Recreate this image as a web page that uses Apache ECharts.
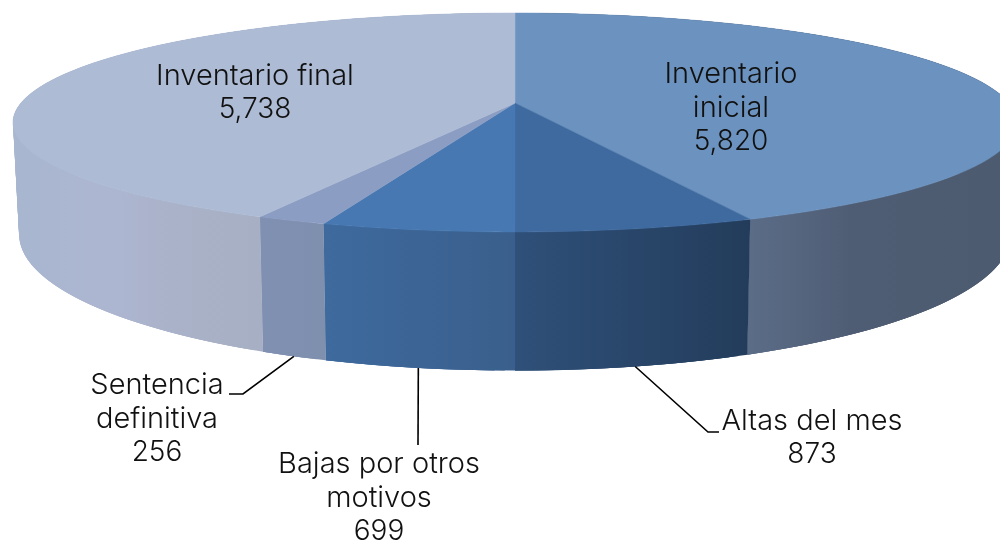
<!DOCTYPE html>
<html>
<head>
<meta charset="utf-8">
<title>Inventario</title>
<style>
html,body{margin:0;padding:0;background:#fff;}
#main{width:1000px;height:546px;}
</style>
<script src="https://cdn.jsdelivr.net/npm/echarts@6/dist/echarts.min.js"></script>
</head>
<body>
<div id="main"></div>
<script>
// datos
var categories = ['Inventario inicial','Altas del mes','Bajas por otros motivos','Sentencia definitiva','Inventario final'];
var values = [5820,873,699,256,5738];
var valueLabels = ['5,820','873','699','256','5,738'];
var labelLines = [['Inventario','inicial'],['Altas del mes'],['Bajas por otros','motivos'],['Sentencia','definitiva'],['Inventario final']];

// colores
var topColors = ['#6c93bf','#3f6a9f','#4778b2','#8b9dc3','#adbbd5'];
var wallColors = [
    [[0,'#5b6c87'],[0.2,'#55657e'],[0.4,'#4f5d74'],[1,'#4d5b70']],
    [[0,'#2f5079'],[1,'#233c5b']],
    [[0,'#3e6a9e'],[1,'#3a5f8c']],
    [[0,'#8090b2'],[1,'#7f8fae']],
    [[0,'#a8b6cf'],[0.4,'#adb6d1'],[0.65,'#aab2c9'],[1,'#a6afc3']]
];
var wallRange = [[750,1000],[515,750],[323,515],[259,323],[12,259]];

// posicion de las etiquetas: centro x, y de cada linea
var labelPos = [[731,74],[812,421],[379,464],[157,385],[255,76]];
var lineGap = 34;
var leaders = [
    null,
    [[708,432],[719,432]],
    [[418,445]],
    [[243,394],[229,394]],
    null
];

// proyeccion del disco
var cx = 515, persp = 0.178;
var topDisc = {a:494,b:106,c:103};
var botDisc = {a:488,b:132,c:210};

var total = 0;
for(var i=0;i<values.length;i++){ total += values[i]; }

function startAngle(idx){
    var s = 0;
    for(var i=0;i<idx;i++){ s += values[i]; }
    return s/total*Math.PI*2;
}
function project(disc,ang){
    var u = Math.sin(ang), v = Math.cos(ang);
    var w = 1+persp*v;
    return [cx+disc.a*u/w, disc.c-disc.b*v/w];
}
function arc(disc,a0,a1){
    var pts = [];
    var n = Math.max(2,Math.ceil(Math.abs(a1-a0)/(Math.PI/180)));
    for(var i=0;i<=n;i++){
        pts.push(project(disc,a0+(a1-a0)*i/n));
    }
    return pts;
}

// la pared va en tramos solapados, asi cubre la silueta lateral sin costuras
function renderWall(params,api){
    var idx = params.dataIndex;
    var a0 = startAngle(idx);
    var a1 = a0+api.value(0)/total*Math.PI*2;
    var up = arc(topDisc,a0,a1), down = arc(botDisc,a0,a1);
    var r = wallRange[idx];
    var fill = new echarts.graphic.LinearGradient(r[0],0,r[1],0,wallColors[idx].map(function(s){
        return {offset:s[0],color:s[1]};
    }),true);
    var kids = [];
    for(var i=0;i<up.length-1;i++){
        var j = Math.min(i+3,up.length-1);
        kids.push({
            type:'polygon',
            shape:{points:[up[i],up[j],down[j],down[i]]},
            style:{fill:fill}
        });
    }
    return {type:'group',children:kids};
}
function renderTop(params,api){
    var idx = params.dataIndex;
    var a0 = startAngle(idx);
    var a1 = a0+api.value(0)/total*Math.PI*2;
    var pts = [[cx,topDisc.c]].concat(arc(topDisc,a0,a1));
    return {type:'polygon',shape:{points:pts},style:{fill:topColors[idx],stroke:topColors[idx],lineWidth:0.5}};
}
function renderLabel(params,api){
    var idx = params.dataIndex;
    var a0 = startAngle(idx);
    var mid = a0+api.value(0)/total*Math.PI;
    var kids = [];
    if(leaders[idx]){
        kids.push({
            type:'polyline',
            shape:{points:[project(botDisc,mid)].concat(leaders[idx])},
            style:{fill:null,stroke:'#000',lineWidth:1.6}
        });
    }
    var lines = labelLines[idx].concat([valueLabels[idx]]);
    for(var i=0;i<lines.length;i++){
        kids.push({
            type:'text',
            style:{
                text:lines[i],
                x:labelPos[idx][0],
                y:labelPos[idx][1]+i*lineGap,
                align:'center',
                verticalAlign:'middle',
                fill:'#111',
                font:(i==lines.length-1?'300 28px Inter':'300 29px Inter')
            }
        });
    }
    return {type:'group',children:kids};
}

var rows = values.map(function(v,i){ return {name:categories[i],value:[v]}; });

var option = {
    animation:false,
    backgroundColor:'#fff',
    series:[
        {type:'custom',coordinateSystem:'none',renderItem:renderWall,data:rows,z:1,silent:true},
        {type:'custom',coordinateSystem:'none',renderItem:renderTop,data:rows,z:2,silent:true},
        {type:'custom',coordinateSystem:'none',renderItem:renderLabel,data:rows,z:3,silent:true}
    ]
};
var chart = echarts.init(document.getElementById('main'));
chart.setOption(option);
</script>
</body>
</html>
